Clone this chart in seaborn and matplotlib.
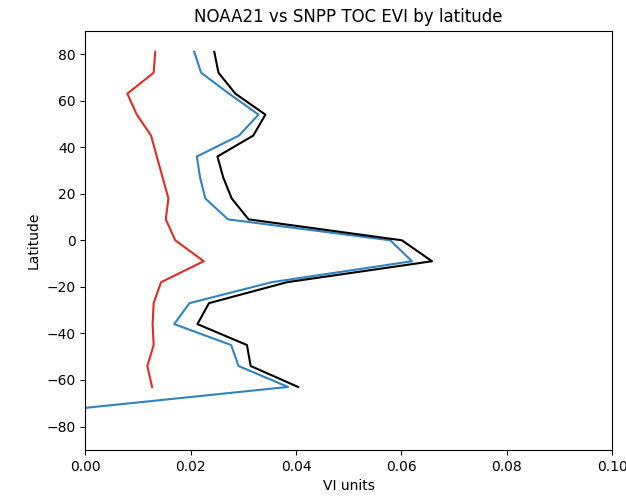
import numpy as np
import pandas as pd
import matplotlib
matplotlib.use("Agg")
import matplotlib.pyplot as plt
import seaborn as sns

# Latitude bins (deg)
lat = [81, 72, 63, 54, 45, 36, 27, 18, 9, 0, -9, -18, -27, -36, -45, -54, -63, -72]

# EVI values
noaa21 = [0.0207, 0.0220, 0.0273, 0.0329, 0.0292, 0.0212, 0.0218, 0.0228, 0.0271, 0.0579,
          0.0620, 0.0354, 0.0198, 0.0169, 0.0277, 0.0291, 0.0385, 0.0000]
snpp = [0.0245, 0.0253, 0.0285, 0.0342, 0.0319, 0.0251, 0.0262, 0.0278, 0.0310, 0.0601,
        0.0658, 0.0383, 0.0235, 0.0213, 0.0307, 0.0314, 0.0404, np.nan]
diff = [0.0133, 0.0130, 0.0080, 0.0098, 0.0125, 0.0136, 0.0147, 0.0158, 0.0153, 0.0171,
        0.0225, 0.0144, 0.0130, 0.0128, 0.0130, 0.0118, 0.0127, np.nan]

df = pd.DataFrame({"lat": lat, "noaa21": noaa21, "snpp": snpp, "diff": diff})

fig, ax = plt.subplots(figsize=(6.26, 4.97), dpi=100)
fig.subplots_adjust(left=0.136, right=0.978, top=0.938, bottom=0.095)

# estimator=None so repeated x values are not averaged together
sns.lineplot(data=df, x="diff", y="lat", sort=False, estimator=None, color="#de2d26", ax=ax)
sns.lineplot(data=df, x="noaa21", y="lat", sort=False, estimator=None, color="#3182bd", ax=ax)
sns.lineplot(data=df, x="snpp", y="lat", sort=False, estimator=None, color="black", ax=ax)

ax.set_xlim(0, 0.10)
ax.set_ylim(-90, 90)
ax.set_xlabel("VI units")
ax.set_ylabel("Latitude")
ax.set_title("NOAA21 vs SNPP TOC EVI by latitude")

plt.savefig("out.png", dpi=100)
